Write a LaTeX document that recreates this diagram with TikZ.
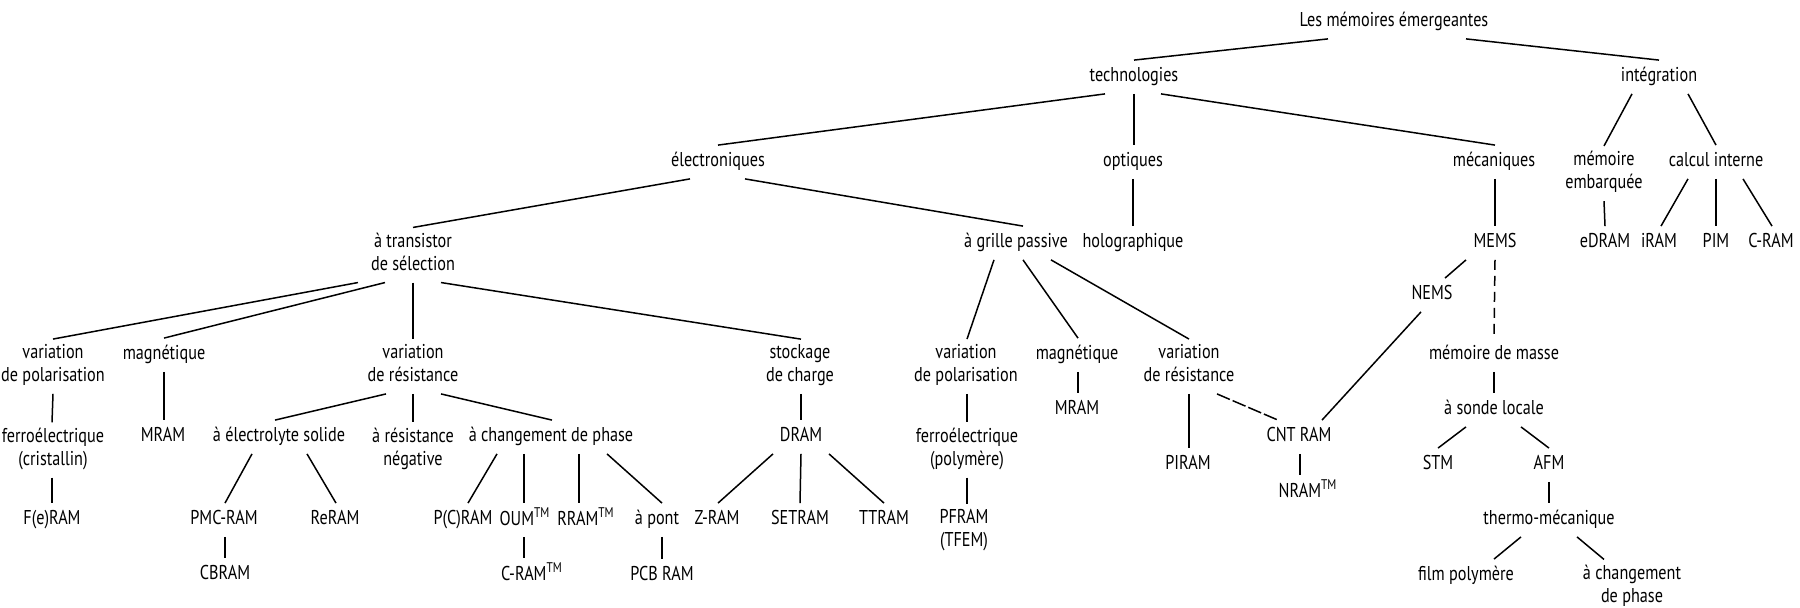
\documentclass[tikz,border=0pt]{standalone}
\usepackage{fontspec}
\setmainfont[FakeStretch=0.81]{PT Sans}
\newcommand\tm{\textsuperscript{TM}}
% parent bottom (x offset) -> child top (x offset), offsets in picture units
\newcommand\conn[5][]{\draw[link,#1] ([xshift=#3*0.5pt]#2.south) -- ([xshift=#5*0.5pt]#4.north);}
\begin{document}
\begin{tikzpicture}[x=0.5pt,y=-0.5pt,
  lbl/.style={inner xsep=0pt,inner ysep=2.5pt,align=center,
    font=\fontsize{10}{11.5}\selectfont,
    execute at begin node=\strut,execute at end node=\strut},
  link/.style={line width=0.75pt,black},
  dashlong/.style={dash pattern=on 5pt off 3pt},
  dashfine/.style={dash pattern=on 7pt off 1.5pt}]
\useasboundingbox (0,0) rectangle (1800,608);

% root and first levels
\node[lbl] (root)  at (1394,22) {Les mémoires émergeantes};
\node[lbl] (tech)  at (1134,77) {technologies};
\node[lbl] (integ) at (1659,77) {intégration};

\node[lbl] (elec) at (718,162)  {électroniques};
\node[lbl] (opt)  at (1133,162) {optiques};
\node[lbl] (meca) at (1494,162) {mécaniques};
\node[lbl] (embq) at (1604,173.5) {mémoire\\embarquée};
\node[lbl] (calc) at (1716,162) {calcul interne};

\node[lbl] (trans)  at (413,255)  {à transistor\\de sélection};
\node[lbl] (grille) at (1016,243) {à grille passive};
\node[lbl] (holo)   at (1133,243) {holographique};
\node[lbl] (mems)   at (1495,243) {MEMS};
\node[lbl] (edram)  at (1605,243) {eDRAM};
\node[lbl] (iram)   at (1659,243) {iRAM};
\node[lbl] (pim)    at (1716,243) {PIM};
\node[lbl] (cram)   at (1771,243) {C-RAM};
\node[lbl] (nems)   at (1432,295) {NEMS};

% physical principles
\node[lbl] (vp1)   at (53,366.5)   {variation\\de polarisation};
\node[lbl] (mag1)  at (164,355)    {magnétique};
\node[lbl] (vr1)   at (413,366.5)  {variation\\de résistance};
\node[lbl] (stock) at (800,366.5)  {stockage\\de charge};
\node[lbl] (vp2)   at (966,366.5)  {variation\\de polarisation};
\node[lbl] (mag2)  at (1077,355)   {magnétique};
\node[lbl] (vr2)   at (1189,366.5) {variation\\de résistance};
\node[lbl] (masse) at (1494,355)   {mémoire de masse};

\node[lbl] (ferro1)  at (53,450)   {ferroélectrique\\(cristallin)};
\node[lbl] (mram1)   at (163,437)  {MRAM};
\node[lbl] (electro) at (279,437)  {à électrolyte solide};
\node[lbl] (neg)     at (413,450)  {à résistance\\négative};
\node[lbl] (chgt)    at (551,437)  {à changement de phase};
\node[lbl] (dram)    at (801,437)  {DRAM};
\node[lbl] (ferro2)  at (967,450)  {ferroélectrique\\(polymère)};
\node[lbl] (mram2)   at (1077,410) {MRAM};
\node[lbl] (cnt)     at (1299,437) {CNT RAM};
\node[lbl] (sonde)   at (1494,410) {à sonde locale};
\node[lbl] (piram)   at (1188,465) {PIRAM};

% devices
\node[lbl] (feram)  at (52,520)    {F(e)RAM};
\node[lbl] (pmc)    at (224,520)   {PMC-RAM};
\node[lbl] (reram)  at (335,520)   {ReRAM};
\node[lbl] (pcram)  at (463,520)   {P(C)RAM};
\node[lbl] (oum)    at (525,520)   {OUM\tm};
\node[lbl] (rram)   at (586,520)   {RRAM\tm};
\node[lbl] (pont)   at (657,520)   {à pont};
\node[lbl] (zram)   at (717,520)   {Z-RAM};
\node[lbl] (setram) at (800,520)   {SETRAM};
\node[lbl] (ttram)  at (884,520)   {TTRAM};
\node[lbl] (pfram)  at (964,531.5) {PFRAM\\(TFEM)};
\node[lbl] (nram)   at (1308,492)  {NRAM\tm};
\node[lbl] (stm)    at (1438,465)  {STM};
\node[lbl] (afm)    at (1549,465)  {AFM};

\node[lbl] (cbram)  at (225,575)   {CBRAM};
\node[lbl] (cram2)  at (532,575)   {C-RAM\tm};
\node[lbl] (pcb)    at (662,576)   {PCB RAM};
\node[lbl] (thermo) at (1549,520)  {thermo-mécanique};
\node[lbl] (film)   at (1466,576)  {film polymère};
\node[lbl] (chg2)   at (1632,587)  {à changement\\de phase};

% connectors
\conn{root}{-66}{tech}{0}
\conn{root}{72}{integ}{0}
\conn{tech}{-29}{elec}{0}
\conn{tech}{0}{opt}{1}
\conn{tech}{27}{meca}{1}
\conn{integ}{-27}{embq}{0}
\conn{integ}{29}{calc}{0}

\conn{elec}{-28}{trans}{0}
\conn{elec}{27}{grille}{7}
\conn{opt}{0}{holo}{0}
\conn{meca}{1}{mems}{0}
\conn{embq}{0}{edram}{0}
\conn{calc}{-28}{iram}{2}
\conn{calc}{0}{pim}{0}
\conn{calc}{27}{cram}{1}

\conn{trans}{-55}{vp1}{0}
\conn{trans}{-28}{mag1}{0}
\conn{trans}{0}{vr1}{0}
\conn{trans}{28}{stock}{1}
\conn{grille}{-22}{vp2}{1}
\conn{grille}{7}{mag2}{1}
\conn{grille}{35}{vr2}{0}
\conn{mems}{-29}{nems}{13}
\conn[dashlong]{mems}{0}{masse}{0}
\conn{nems}{-11}{cnt}{23}

\conn{vp1}{0}{ferro1}{-1}
\conn{mag1}{0}{mram1}{1}
\conn{vr1}{-27}{electro}{-4}
\conn{vr1}{0}{neg}{0}
\conn{vr1}{28}{chgt}{1}
\conn{stock}{1}{dram}{0}
\conn{vp2}{1}{ferro2}{0}
\conn{mag2}{1}{mram2}{1}
\conn{vr2}{0}{piram}{1}
\conn[dashfine]{vr2}{28}{cnt}{-21}
\conn{masse}{0}{sonde}{0}

\conn{ferro1}{-1}{feram}{0}
\conn{electro}{-27}{pmc}{1}
\conn{electro}{28}{reram}{1}
\conn{chgt}{-54}{pcram}{5}
\conn{chgt}{-27}{oum}{-1}
\conn{chgt}{28}{rram}{-7}
\conn{chgt}{56}{pont}{5}
\conn{dram}{-28}{zram}{1}
\conn{dram}{0}{setram}{0}
\conn{dram}{28}{ttram}{0}
\conn{ferro2}{0}{pfram}{3}
\conn{cnt}{1}{nram}{-8}
\conn{sonde}{-28}{stm}{0}
\conn{sonde}{27}{afm}{0}

\conn{pmc}{1}{cbram}{0}
\conn{oum}{-1}{cram2}{-8}
\conn{pont}{5}{pcb}{0}
\conn{afm}{0}{thermo}{0}
\conn{thermo}{-28}{film}{28}
\conn{thermo}{28}{chg2}{-28}
\end{tikzpicture}
\end{document}
